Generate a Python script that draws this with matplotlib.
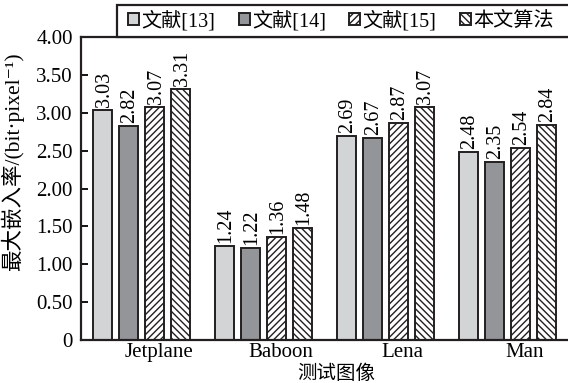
import matplotlib
matplotlib.use("Agg")
import matplotlib.pyplot as plt
from matplotlib.patches import Rectangle
import numpy as np

plt.rcParams['font.family'] = ['Liberation Serif', 'Noto Sans CJK SC', 'DejaVu Sans']
plt.rcParams['hatch.linewidth'] = 1.0

images = ['Jetplane', 'Baboon', 'Lena', 'Man']
methods = ['文献[13]', '文献[14]', '文献[15]', '本文算法']
ref13 = [3.03, 1.24, 2.69, 2.48]
ref14 = [2.82, 1.22, 2.67, 2.35]
ref15 = [3.07, 1.36, 2.87, 2.54]
ours = [3.31, 1.48, 3.07, 2.84]
yticks = [0, 0.5, 1.0, 1.5, 2.0, 2.5, 3.0, 3.5, 4.0]
ytick_labels = ['0', '0.50', '1.00', '1.50', '2.00', '2.50', '3.00', '3.50', '4.00']

faces = ['#d3d4d6', '#939598', 'white', 'white']
hatches = [None, None, '/////', '\\\\\\\\\\']
edge = '#231f20'

W, H = 568, 383
fig = plt.figure(figsize=(W / 100, H / 100), dpi=100)
ax = fig.add_axes([81 / W, 1 - 340 / H, 487 / W, 303 / H])

x = np.arange(len(images))
step = 0.2136
width = 0.156
for i, vals in enumerate([ref13, ref14, ref15, ours]):
    pos = x + (i - 1.5) * step
    ax.bar(pos, vals, width, color=faces[i], edgecolor=edge, linewidth=1.4,
           hatch=hatches[i], label=methods[i])
    for px, v in zip(pos, vals):
        ax.text(px + 0.01, v + 0.04, f'{v:.2f}', rotation=90, ha='center', va='bottom',
                fontsize=14.5)

ax.set_xlim(-0.5, 3.5)
ax.set_ylim(0, 4.0)
ax.set_yticks(yticks)
ax.set_yticklabels(ytick_labels)
ax.set_xticks(x + 0.14)
ax.set_xticklabels(images)
ax.tick_params(axis='x', length=0, pad=2, labelsize=15)
ax.tick_params(axis='y', direction='in', length=5, width=1.3, pad=6, labelsize=15)
for side in ['left', 'top', 'bottom']:
    ax.spines[side].set_linewidth(1.6)
    ax.spines[side].set_color(edge)
ax.spines['right'].set_visible(False)

ax.set_xlabel('测试图像', fontsize=14)
ax.xaxis.set_label_coords((336 - 81) / 487, -0.08)
ax.set_ylabel('最大嵌入率/(bit·pixel⁻¹)', fontsize=15.5)
ax.yaxis.set_label_coords(-0.117, 0.59)

# legend box runs off the right edge, so draw the frame separately
fig.patches.append(Rectangle((117 / W, 1 - 37 / H), 460 / W, 32 / H,
                             transform=fig.transFigure, facecolor='white',
                             edgecolor=edge, linewidth=1.6, zorder=0))
leg = fig.legend(loc='center left', bbox_to_anchor=(128 / W, 1 - 21 / H),
                 ncol=4, frameon=False, borderaxespad=0, borderpad=0,
                 handlelength=0.55, handleheight=0.55, handletextpad=0.12,
                 columnspacing=1.15, fontsize=14.5)

fig.savefig('out.png', dpi=100)
